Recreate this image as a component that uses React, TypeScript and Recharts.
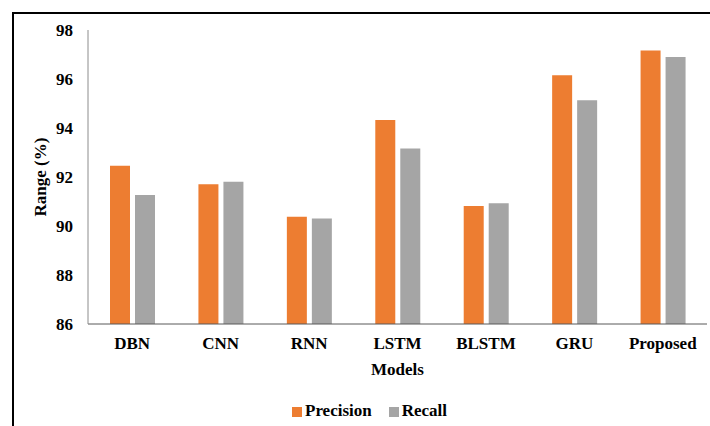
import { Bar, BarChart, XAxis, YAxis } from 'recharts';

const FONT = '"Liberation Serif", "Times New Roman", Times, "DejaVu Serif", serif';
const ORANGE = '#ed7d31';
const GRAY = '#a5a5a5';

const MODELS = ['DBN', 'CNN', 'RNN', 'LSTM', 'BLSTM', 'GRU', 'Proposed'];
const PRECISION = [92.46, 91.7, 90.38, 94.33, 90.82, 96.15, 97.16];
const RECALL = [91.27, 91.81, 90.31, 93.16, 90.93, 95.13, 96.9];
const Y_TICKS = [86, 88, 90, 92, 94, 96, 98];

const data = MODELS.map((model, i) => ({
  model,
  precision: PRECISION[i],
  recall: RECALL[i],
}));

const textStyle = { fill: '#000', fontSize: 17, fontWeight: 700, fontFamily: FONT };

function LegendBox() {
  const item = (color: string, text: string, ml: number) => (
    <div style={{ display: 'flex', alignItems: 'flex-end', marginLeft: ml }}>
      <span
        style={{
          display: 'inline-block',
          width: 10,
          height: 10,
          background: color,
          marginRight: 3,
          marginBottom: 4,
        }}
      />
      <span>{text}</span>
    </div>
  );
  return (
    <div
      style={{
        position: 'absolute',
        left: 292,
        top: 401,
        display: 'flex',
        fontFamily: FONT,
        fontWeight: 700,
        fontSize: 17,
        lineHeight: '20px',
        color: '#000',
      }}
    >
      {item(ORANGE, 'Precision', 0)}
      {item(GRAY, 'Recall', 17)}
    </div>
  );
}

export default function App() {
  return (
    <div
      style={{
        position: 'absolute',
        left: 0,
        top: 0,
        width: 710,
        height: 426,
        background: '#fff',
        fontFamily: FONT,
      }}
    >
      <div
        style={{
          position: 'absolute',
          left: 12,
          top: 12,
          width: 698,
          height: 414,
          borderTop: '2px solid #000',
          borderLeft: '2px solid #000',
          boxSizing: 'border-box',
        }}
      />
      <div style={{ position: 'absolute', left: 0, top: 0 }}>
        <BarChart
          width={710}
          height={426}
          data={data}
          margin={{ top: 30, right: 3, left: 28, bottom: 51 }}
          barSize={20}
          barGap={5}
          style={{ fontFamily: FONT }}
        >
          <XAxis
            dataKey="model"
            height={51}
            stroke="#595959"
            tickLine={false}
            tickSize={6}
            tickMargin={7}
            tick={textStyle}
            fontFamily={FONT}
            interval={0}
            label={{
              value: 'Models',
              position: 'insideBottom',
              offset: 0,
              fontFamily: FONT,
              style: textStyle,
            }}
          />
          <YAxis
            width={60}
            domain={[86, 98]}
            ticks={Y_TICKS}
            stroke="#8c8c8c"
            tickLine={false}
            tickSize={6}
            tickMargin={9}
            tick={textStyle}
            fontFamily={FONT}
            label={{
              value: 'Range (%)',
              angle: -90,
              position: 'center',
              dx: -18,
              fontFamily: FONT,
              style: textStyle,
            }}
          />
          <Bar dataKey="precision" fill={ORANGE} isAnimationActive={false} />
          <Bar dataKey="recall" fill={GRAY} isAnimationActive={false} />
        </BarChart>
      </div>
      <LegendBox />
    </div>
  );
}
